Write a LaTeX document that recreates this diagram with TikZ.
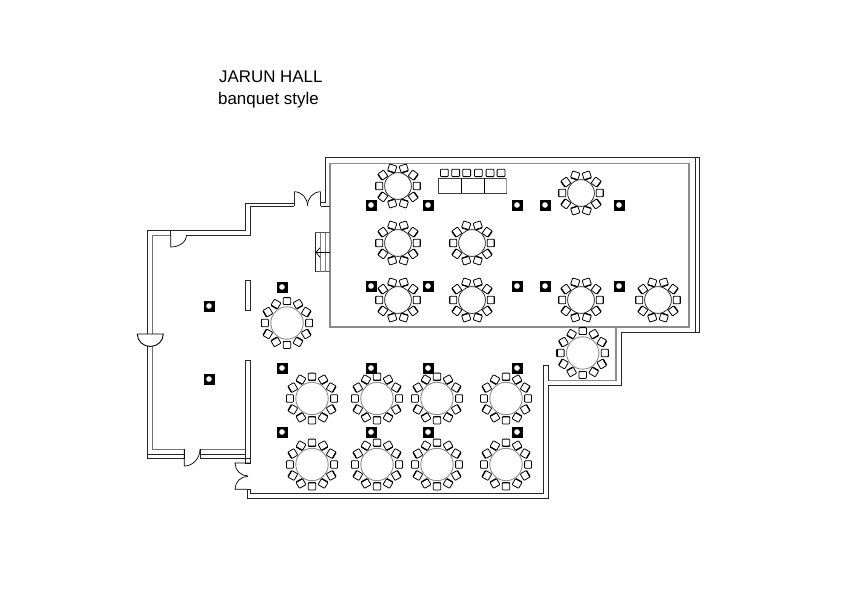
\documentclass[tikz,border=0pt]{standalone}
\usepackage{fontspec}
\setmainfont{Liberation Sans}
\tikzset{
  dark/.style={draw=black!85,line width=0.95pt},
  midw/.style={draw=black!55,line width=1pt},
  grayw/.style={draw=black!45,line width=1.3pt},
  pillar/.style={draw=none,fill=black,minimum size=11pt,inner sep=0pt,rectangle,path picture={\fill[white] (path picture bounding box.center) circle (2.8pt);}},
  label/.style={inner sep=0pt,anchor=base west,font=\fontsize{16.9pt}{18pt}\selectfont},
  tabletop/.style={draw=black!85,line width=0.75pt},
  bigtop/.style={draw=black!45,line width=0.9pt},
  chairbox/.style={draw=black,line width=0.8pt,fill=white,rounded corners=0.8pt},
  doorleaf/.style={draw=black,line width=0.7pt},
}
\newcommand{\chairat}[3]{% x y angle(outward)
  \begin{scope}[shift={(#1,#2)},rotate=#3]
    \draw[chairbox] (-3.4,-3.8) rectangle (3.5,3.8);
    \draw[black,line width=1.3pt,line cap=round] (3.7,-3.1) -- (3.7,3.1);
  \end{scope}}
\newcommand{\smalltable}[2]{%
  \begin{scope}[shift={(#1,#2)}]
    \foreach \a in {0,36,...,324}{\chairat{{18.6*cos(\a)}}{{-18.6*sin(\a)}}{-\a}}
    \draw[tabletop,fill=white] (0,0) circle (13.4);
  \end{scope}}
\newcommand{\bigtable}[2]{%
  \begin{scope}[shift={(#1,#2)}]
    \foreach \a in {0,30,...,330}{\chairat{{22*cos(\a)}}{{-22*sin(\a)}}{-\a}}
    \draw[bigtop,fill=white] (0,0) circle (16.2);
  \end{scope}}
\begin{document}
\begin{tikzpicture}[x=1pt,y=-1pt]
\useasboundingbox (0,0) rectangle (842,595);
\fill[white] (0,0) rectangle (842,595);
% titles
\node[label] (title) at (219,82.5) {JARUN HALL};
\node[label] (sub) at (218,104.5) {banquet style};
% main hall gray inner
\draw[grayw] (330,206) -- (330,163.3) -- (689,163.3) -- (689,327) -- (330,327) -- cycle;
\draw[grayw] (616,327) -- (616,380.7) -- (548,380.7);
\draw[dark] (320.7,202.7) -- (325,202.7) -- (325,157.5) -- (699.3,157.5) -- (699.3,332) -- (621.7,332) -- (621.7,385) -- (548,385) -- (548,498) -- (247,498) -- (247,489.3) -- (250,489.3) -- (250,493.3) -- (543.3,493.3) -- (543.3,365) -- (548,365) -- (548,380.7);
\draw[dark] (695.7,157.5) -- (695.7,332);
% north door stubs
\draw[dark] (320.7,206) -- (330,206);
\draw[dark] (320.7,191.7) -- (320.7,206);
\draw[dark] (294.3,191.7) -- (294.3,206);
\draw[dark] (294.3,203.3) -- (245.7,203.3) -- (245.7,230.7) -- (170.7,230.7);
\draw[dark] (170.7,235) -- (170.7,230) -- (147.7,230) -- (147.7,334);
\draw[dark] (186.7,235) -- (250.3,235) -- (250.3,206) -- (294.3,206);
\draw[doorleaf] (294.3,191.7) arc[start angle=-90,end angle=0,x radius=13.2,y radius=14] ;
\draw[doorleaf] (320.7,191.7) arc[start angle=-90,end angle=-180,x radius=13.2,y radius=14];
% left wall
\draw[midw] (170.7,235) -- (152.3,235) -- (152.3,334);
\draw[dark] (147.7,346) -- (147.7,458.3) -- (184.3,458.3) -- (184.3,449);
\draw[midw] (184.3,449) -- (152.3,449) -- (152.3,346);
\draw[dark] (147.7,454) -- (184.3,454);
\draw[dark] (200,454) -- (245.7,454);
\draw[dark] (200,458.3) -- (250.3,458.3);
\draw[midw] (200,449) -- (245.7,449);
\draw[dark] (245.7,449) -- (245.7,360.7) -- (250.3,360.7) -- (250.3,463) -- (245.7,463) -- (245.7,449);
\draw[dark] (200,449) -- (200,458.3);
% doors
\draw[doorleaf] (170.7,235) -- (170.7,247) arc[start angle=90,end angle=0,x radius=16,y radius=12];
\draw[doorleaf] (184.3,449) -- (184.3,466) arc[start angle=90,end angle=0,x radius=15.7,y radius=17];
\draw[doorleaf] (250,463) -- (235,463) arc[start angle=180,end angle=90,x radius=13,y radius=13];
\draw[doorleaf] (247,489.3) -- (235,489.3) arc[start angle=180,end angle=270,x radius=13,y radius=13];
% west entrance half-round door
\draw[doorleaf,line width=0.9pt] (137.3,334) -- (163.3,334) arc[start angle=0,end angle=180,x radius=13,y radius=12.5];
% partition
\draw[dark] (245.7,280.7) rectangle (250.3,310.7);
% stairs
\foreach \y in {232.5,271.7}{\draw[draw=black!65,line width=0.7pt] (315,\y) -- (330,\y);}
\draw[draw=black!85,line width=0.7pt] (315,232.5) -- (315,271.7);
\foreach \x in {320,325}{\draw[draw=black!50,line width=0.7pt] (\x,232.5) -- (\x,271.7);}
\draw[draw=black,line width=0.7pt] (330,252.3) -- (316,252.3);
\draw[draw=black,line width=0.7pt] (320,247.7) -- (316,252.3) -- (320,257.3);
% bar
\draw[draw=black!75,line width=0.8pt] (438.3,193.3) -- (438.3,178.3) -- (506.7,178.3);
\draw[draw=black!75,line width=0.8pt] (438.3,193.3) -- (506.7,193.3);
\draw[draw=black!40,line width=1.2pt] (506.7,178.3) -- (506.7,193.3);
\draw[draw=black,line width=0.8pt] (461.7,178.3) -- (461.7,193.3) (484,178.3) -- (484,193.3);
\foreach \x in {444.3,455.7,466.7,478.3,490,501}{\draw[chairbox] (\x-3.9,169.2) rectangle (\x+3.9,176.6);}
% tables
\smalltable{398}{186}\smalltable{398}{243}\smalltable{472}{243}\smalltable{398}{300}\smalltable{472}{300}
\smalltable{581}{193}\smalltable{581}{300}\smalltable{658}{300}
\bigtable{287}{323}\bigtable{582.7}{353}
\foreach \x in {312,377,437,506}{\bigtable{\x}{398.5}\bigtable{\x}{464.5}}
% pillars
\foreach \n/\x/\y in {a/371/205,b/428/205,c/517/205,d/545/205,e/619/205,f/371/286,g/428/286,h/517/286,i/545/286,j/619/286,k/209/306,l/282/287,m/209/379,n/282/368,o/282/432,p/371/368,q/428/368,r/517/368,s/371/432,t/428/432,u/517/432}{\node[pillar] (p\n) at (\x,\y) {};}
\end{tikzpicture}
\end{document}
